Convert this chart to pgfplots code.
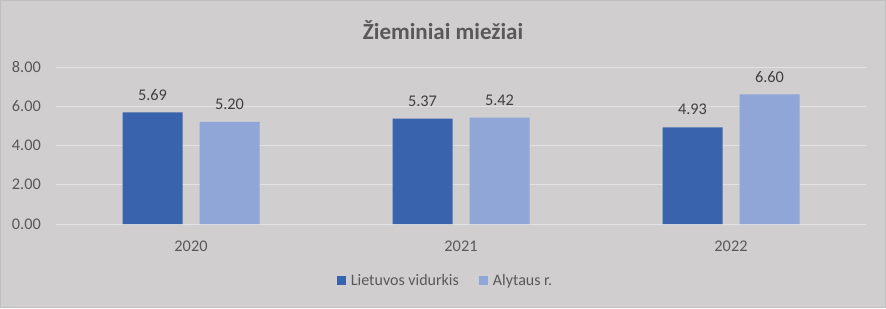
\documentclass[border=0pt]{standalone}
\usepackage{fontspec}
\setmainfont{Carlito}
\usepackage{pgfplots}
\pgfplotsset{compat=1.18}
\definecolor{bg}{HTML}{D0CECE}
\definecolor{brd}{HTML}{BFBFBF}
\definecolor{grd}{HTML}{E2E2E2}
\definecolor{dark}{HTML}{3A63AD}
\definecolor{light}{HTML}{8FA6D6}
\definecolor{txt}{HTML}{595959}
\definecolor{lbl}{HTML}{404040}
\begin{document}
\begin{tikzpicture}
\fill[bg, draw=brd, line width=1pt] (0.5pt,0.5pt) rectangle (885.5pt,307.5pt);
\useasboundingbox (0pt,0pt) rectangle (886pt,308pt);
\node[font=\fontsize{23}{27}\selectfont\bfseries, text=txt] at (443pt,278pt) {Žieminiai miežiai};
\begin{axis}[
  at={(56pt,84pt)}, anchor=south west,
  scale only axis, width=810pt, height=157pt,
  xmin=-0.5, xmax=2.5, ymin=0, ymax=8,
  ytick={0,2,4,6,8},
  xtick={0,1,2}, xticklabels={2020,2021,2022},
  axis line style={draw=none},
  tick style={draw=none},
  ymajorgrids, grid style={grd, line width=1pt},
  /pgf/number format/assume math mode=true,
  yticklabel={\pgfmathprintnumber[fixed,fixed zerofill,precision=2]{\tick}},
  ticklabel style={font=\fontsize{16.3}{19}\selectfont, text=txt},
  yticklabel style={inner sep=0pt, xshift=-15pt},
  xticklabel style={inner sep=0pt, yshift=-12pt},
  ybar, bar width=60pt,
  nodes near coords,
  nodes near coords style={font=\fontsize{16.3}{19}\selectfont, text=lbl, anchor=south, inner sep=0pt, yshift=12pt,
    /pgf/number format/.cd, fixed, fixed zerofill, precision=2, assume math mode=true},
  legend style={at={(rel axis cs:0.481,-0.36)}, anchor=center, draw=none, fill=none,
    font=\fontsize{16}{19}\selectfont, text=txt, legend columns=2,
    /tikz/every odd column/.append style={column sep=3pt},
    /tikz/every even column/.append style={column sep=18pt}},
  legend image code/.code={\fill[#1] (0pt,-4.5pt) rectangle (9pt,4.5pt);},
]
\addplot[fill=dark, draw=none, bar shift=-38.5pt] coordinates {(0,5.69) (1,5.37) (2,4.93)};
\addplot[fill=light, draw=none, bar shift=38.5pt] coordinates {(0,5.20) (1,5.42) (2,6.60)};
\legend{Lietuvos vidurkis, Alytaus r.}
\end{axis}
\end{tikzpicture}
\end{document}
